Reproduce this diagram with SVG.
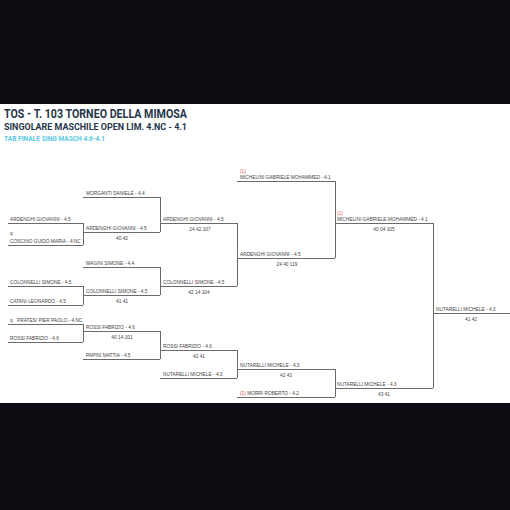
<svg xmlns="http://www.w3.org/2000/svg" width="510" height="510" viewBox="0 0 510 510">
<style>
.bg{fill:#0b0d13}
.n{font-family:"Liberation Sans",Arial,sans-serif;font-size:6px;fill:#444}
.s{font-family:"Liberation Sans",Arial,sans-serif;font-size:6px;fill:#444;text-anchor:middle}
.r{fill:#d9534f}
.ln{stroke:#6a6a6a;stroke-width:1;fill:none}
.t1{font-family:Roboto,"Liberation Sans",sans-serif;font-weight:bold;font-size:13px;fill:#26364a}
.t2{font-family:Roboto,"Liberation Sans",sans-serif;font-weight:bold;font-size:9.5px;fill:#26364a}
.t3{font-family:Roboto,"Liberation Sans",sans-serif;font-weight:bold;font-size:6.5px;fill:#5bc8e0}
</style>
<rect x="0" y="0" width="510" height="510" fill="#fff"/>
<rect class="bg" x="0" y="0" width="510" height="104"/>
<rect class="bg" x="0" y="403" width="510" height="107"/>
<g id="header">
<text class="t1" x="4" y="118" textLength="183" lengthAdjust="spacingAndGlyphs">TOS - T. 103 TORNEO DELLA MIMOSA</text>
<text class="t2" x="4" y="129.5" textLength="183" lengthAdjust="spacingAndGlyphs">SINGOLARE MASCHILE OPEN LIM. 4.NC - 4.1</text>
<text class="t3" x="4" y="141" textLength="101" lengthAdjust="spacingAndGlyphs">TAB FINALE SING MASCH 4.6-4.1</text>
</g>
<g id="connectors" class="ln">
<path d="M83.5 223V245M83.5 286V305M83.5 324V342"/>
<path d="M160.5 197V232M160.5 267V295M160.5 331V359"/>
<path d="M237.5 223V286M237.5 350V378"/>
<path d="M335.5 181V258M335.5 369V397"/>
<path d="M433.5 223V388"/>
</g>
<g id="r1-ardenghi"><path class="ln" d="M8 223.5H83"/><text class="n" transform="translate(10,220.5) scale(0.8,1)">ARDENGHI GIOVANNI - 4.5</text></g>
<g id="r1-coscino"><path class="ln" d="M8 245.5H83"/><text class="n" transform="translate(10,235) scale(0.8,1)">q</text><text class="n" transform="translate(10,242.5) scale(0.8,1)">COSCINO GUIDO MARIA - 4.NC</text></g>
<g id="r1-colonnelli"><path class="ln" d="M8 286.5H83"/><text class="n" transform="translate(10,283.5) scale(0.8,1)">COLONNELLI SIMONE - 4.5</text></g>
<g id="r1-catani"><path class="ln" d="M8 305.5H83"/><text class="n" transform="translate(10,302.5) scale(0.8,1)">CATANI LEONARDO - 4.5</text></g>
<g id="r1-pratesi"><path class="ln" d="M8 324.5H83"/><text class="n" transform="translate(10,321.5) scale(0.8,1)">q</text><text class="n" transform="translate(17,321.5) scale(0.8,1)">PRATESI PIER PAOLO - 4.NC</text></g>
<g id="r1-rossi"><path class="ln" d="M8 342.5H83"/><text class="n" transform="translate(10,339.5) scale(0.8,1)">ROSSI FABRIZIO - 4.6</text></g>
<g id="r2-morganti"><path class="ln" d="M83 197.5H160"/><text class="n" transform="translate(86,194.5) scale(0.8,1)">MORGANTI DANIELE - 4.4</text></g>
<g id="r2-ardenghi"><path class="ln" d="M83 232.5H160"/><text class="n" transform="translate(86,229.5) scale(0.8,1)">ARDENGHI GIOVANNI - 4.5</text><text class="s" transform="translate(122,240) scale(0.8,1)">40 42</text></g>
<g id="r2-magini"><path class="ln" d="M83 267.5H160"/><text class="n" transform="translate(86,264.5) scale(0.8,1)">MAGINI SIMONE - 4.4</text></g>
<g id="r2-colonnelli"><path class="ln" d="M83 295.5H160"/><text class="n" transform="translate(86,292.5) scale(0.8,1)">COLONNELLI SIMONE - 4.5</text><text class="s" transform="translate(122,303) scale(0.8,1)">41 41</text></g>
<g id="r2-rossi"><path class="ln" d="M83 331.5H160"/><text class="n" transform="translate(86,328.5) scale(0.8,1)">ROSSI FABRIZIO - 4.6</text><text class="s" transform="translate(122,339) scale(0.8,1)">40 14 101</text></g>
<g id="r2-papini"><path class="ln" d="M83 359.5H160"/><text class="n" transform="translate(86,356.5) scale(0.8,1)">PAPINI MATTIA - 4.5</text></g>
<g id="r3-ardenghi"><path class="ln" d="M160 223.5H237"/><text class="n" transform="translate(163,220.5) scale(0.8,1)">ARDENGHI GIOVANNI - 4.5</text><text class="s" transform="translate(200,231) scale(0.8,1)">24 42 107</text></g>
<g id="r3-colonnelli"><path class="ln" d="M160 286.5H237"/><text class="n" transform="translate(163,283.5) scale(0.8,1)">COLONNELLI SIMONE - 4.5</text><text class="s" transform="translate(199,294) scale(0.8,1)">42 14 104</text></g>
<g id="r3-rossi"><path class="ln" d="M160 350.5H237"/><text class="n" transform="translate(163,347.5) scale(0.8,1)">ROSSI FABRIZIO - 4.6</text><text class="s" transform="translate(199,358) scale(0.8,1)">42 41</text></g>
<g id="r3-nutarelli"><path class="ln" d="M160 378.5H237"/><text class="n" transform="translate(163,375.5) scale(0.8,1)">NUTARELLI MICHELE - 4.3</text></g>
<g id="r4-michelini"><path class="ln" d="M237 181.5H335"/><text class="n r" transform="translate(240,172.5) scale(0.8,1)">(1)</text><text class="n" transform="translate(240,178.5) scale(0.8,1)">MICHELINI GABRIELE MOHAMMED - 4.1</text></g>
<g id="r4-ardenghi"><path class="ln" d="M237 258.5H335"/><text class="n" transform="translate(240,255.5) scale(0.8,1)">ARDENGHI GIOVANNI - 4.5</text><text class="s" transform="translate(287,266) scale(0.8,1)">24 40 119</text></g>
<g id="r4-nutarelli"><path class="ln" d="M237 369.5H335"/><text class="n" transform="translate(240,366.5) scale(0.8,1)">NUTARELLI MICHELE - 4.3</text><text class="s" transform="translate(286,377) scale(0.8,1)">42 43</text></g>
<g id="r4-morri"><path class="ln" d="M237 397.5H335"/><text class="n" transform="translate(240,394.5) scale(0.8,1)"><tspan class="r">(2)</tspan> MORRI ROBERTO - 4.2</text></g>
<g id="r5-michelini"><path class="ln" d="M335 223.5H433"/><text class="n r" transform="translate(337,215) scale(0.8,1)">(1)</text><text class="n" transform="translate(337,220.5) scale(0.8,1)">MICHELINI GABRIELE MOHAMMED - 4.1</text><text class="s" transform="translate(384,231) scale(0.8,1)">40 04 105</text></g>
<g id="r5-nutarelli"><path class="ln" d="M335 388.5H433"/><text class="n" transform="translate(337,385.5) scale(0.8,1)">NUTARELLI MICHELE - 4.3</text><text class="s" transform="translate(384,396) scale(0.8,1)">43 41</text></g>
<g id="r6-nutarelli"><path class="ln" d="M433 313.5H510"/><text class="n" transform="translate(436,310.5) scale(0.8,1)">NUTARELLI MICHELE - 4.3</text><text class="s" transform="translate(471,321) scale(0.8,1)">41 42</text></g>
</svg>
